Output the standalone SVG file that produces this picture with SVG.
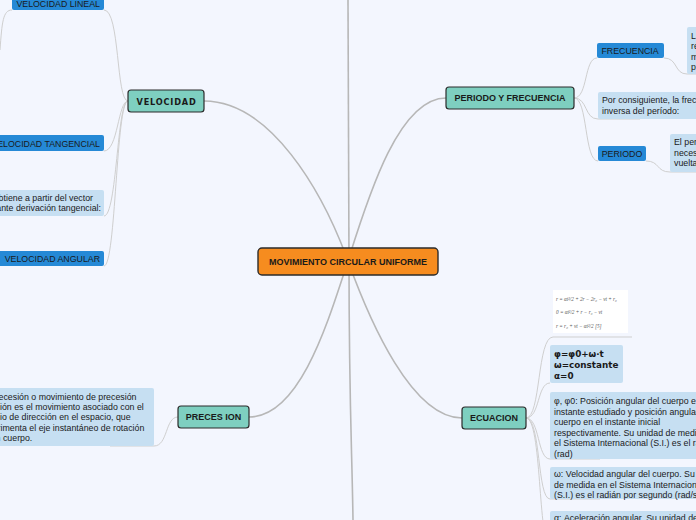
<svg xmlns="http://www.w3.org/2000/svg" width="696" height="520" viewBox="0 0 696 520">
<style>
.bg{fill:#f3f6fe}
.main{fill:none;stroke:#b7b7b7;stroke-width:1.6}
.sub{fill:none;stroke:#cfcfcf;stroke-width:1}
.root{fill:#f68c1f;stroke:#2b2b2b;stroke-width:1.4}
.topic{fill:#7ecfc0;stroke:#2b2b2b;stroke-width:1.2}
.lbl{fill:#2589d6}
.note{fill:#c6dff2}
.t{font-family:"Liberation Sans",Arial,sans-serif;font-size:8.8px;fill:#1a1a1a}
.tb{font-family:"Liberation Sans",Arial,sans-serif;font-size:9px;font-weight:bold;fill:#1a1a1a}
.tv{font-family:"DejaVu Sans",Verdana,sans-serif;font-size:8.2px;font-weight:bold;letter-spacing:0.8px;fill:#1a1a1a}
.tf{font-family:"DejaVu Sans",Verdana,sans-serif;font-size:8.8px;font-weight:bold;fill:#1a1a1a}
.fx{font-family:"Liberation Serif",serif;font-size:5.2px;font-style:italic;fill:#555}
</style>
<rect class="bg" x="0" y="0" width="696" height="520"/>
<g id="connectors">
<path class="main" d="M348,0 L349,261"/>
<path class="main" d="M349,261 C349,400 352,450 353,520"/>
<path class="main" d="M204,101 C270,101 322,190 348,261"/>
<path class="main" d="M446,98 C400,98 370,190 348,261"/>
<path class="main" d="M249,417 C300,417 328,322 348,261"/>
<path class="main" d="M462,418 C412,418 370,322 348,261"/>
<path class="sub" d="M128,101 C116,101 120,10 104,10"/>
<path class="sub" d="M128,101 C118,101 118,151 104,151"/>
<path class="sub" d="M128,101 C117,101 117,216 104,216"/>
<path class="sub" d="M128,101 C116,101 116,266 104,266"/>
<path class="sub" d="M12,10 C3,10 2,22 0,50"/>
<path class="sub" d="M574,98 C588,98 584,58 597,58"/>
<path class="sub" d="M574,98 C588,98 584,119 598,119 L640,119"/>
<path class="sub" d="M574,98 C588,98 584,161 598,161"/>
<path class="sub" d="M664,58 C678,58 674,74 687,74 L696,74"/>
<path class="sub" d="M646,161 C660,161 656,172 670,172 L696,172"/>
<path class="sub" d="M178,417 C165,417 168,446 154,446 L110,446"/>
<path class="sub" d="M526,418 C541,418 537,337 553,337 L632,337"/>
<path class="sub" d="M526,418 C540,418 537,383 550,383"/>
<path class="sub" d="M526,418 C540,418 537,459 550,459 L600,459"/>
<path class="sub" d="M526,418 C541,418 537,499 550,499 L600,499"/>
<path class="sub" d="M526,418 C542,418 538,545 550,545"/>
</g>
<g id="root">
<rect class="root" x="258" y="248" width="180" height="27" rx="4"/>
<text class="tb" x="348" y="264.5" text-anchor="middle">MOVIMIENTO CIRCULAR UNIFORME</text>
</g>
<g id="velocidad">
<rect class="topic" x="128" y="90" width="76" height="22" rx="3"/>
<text class="tv" x="166.5" y="104.5" text-anchor="middle">VELOCIDAD</text>
</g>
<g id="velocidad-lineal">
<rect class="lbl" x="12" y="-6" width="92" height="16" rx="2"/>
<text class="t" x="100" y="6.5" text-anchor="end">VELOCIDAD LINEAL</text>
</g>
<g id="velocidad-tangencial">
<rect class="lbl" x="-12" y="135" width="116" height="16" rx="2"/>
<text class="t" x="100" y="146.5" text-anchor="end">VELOCIDAD TANGENCIAL</text>
</g>
<g id="velocidad-nota">
<rect class="note" x="-20" y="190" width="124" height="26" rx="2"/>
<text class="t" x="93" y="200.5" text-anchor="end">se obtiene a partir del vector</text>
<text class="t" x="101" y="211" text-anchor="end">mediante derivación tangencial:</text>
</g>
<g id="velocidad-angular">
<rect class="lbl" x="-2" y="251" width="106" height="15" rx="2"/>
<text class="t" x="100" y="261.5" text-anchor="end">VELOCIDAD ANGULAR</text>
</g>
<g id="periodo-frecuencia">
<rect class="topic" x="446" y="87" width="128" height="22" rx="3"/>
<text class="tb" x="510" y="101.2" text-anchor="middle">PERIODO Y FRECUENCIA</text>
</g>
<g id="frecuencia">
<rect class="lbl" x="597" y="43" width="67" height="15" rx="2"/>
<text class="t" x="601.5" y="53.7">FRECUENCIA</text>
</g>
<g id="frecuencia-nota">
<rect class="note" x="687" y="27" width="30" height="47" rx="2"/>
<text class="t" x="691" y="38.5">La frecuencia es el número de</text>
<text class="t" x="691" y="49">revoluciones o vueltas que da el</text>
<text class="t" x="691" y="59.5">móvil en la unidad de tiempo,</text>
<text class="t" x="691" y="70">por ejemplo, por segundo.</text>
</g>
<g id="inversa-nota">
<rect class="note" x="598" y="92" width="110" height="27" rx="2"/>
<text class="t" x="602" y="103">Por consiguiente, la frecuencia es la</text>
<text class="t" x="602" y="113.5">inversa del período:</text>
</g>
<g id="periodo">
<rect class="lbl" x="598" y="146" width="48" height="15" rx="2"/>
<text class="t" x="601.7" y="156.7">PERIODO</text>
</g>
<g id="periodo-nota">
<rect class="note" x="670" y="134" width="40" height="38" rx="2"/>
<text class="t" x="674" y="145">El periodo es el tiempo</text>
<text class="t" x="674" y="155.5">necesario para dar una</text>
<text class="t" x="674" y="166">vuelta completa.</text>
</g>
<g id="precesion">
<rect class="topic" x="178" y="406" width="71" height="22" rx="3"/>
<text class="tb" x="213.5" y="420.3" text-anchor="middle">PRECES ION</text>
</g>
<g id="precesion-nota">
<rect class="note" x="-30" y="388" width="184" height="58" rx="2"/>
<text class="t" x="-21.5" y="399.5">La precesión o movimiento de precesión</text>
<text class="t" x="-21.5" y="409.9">nutación es el movimiento asociado con el</text>
<text class="t" x="-21.5" y="420.3">cambio de dirección en el espacio, que</text>
<text class="t" x="-21.5" y="430.7">experimenta el eje instantáneo de rotación</text>
<text class="t" x="-21.5" y="441.1">de un cuerpo.</text>
</g>
<g id="ecuacion">
<rect class="topic" x="462" y="407" width="64" height="22" rx="3"/>
<text class="tb" x="494" y="421.2" text-anchor="middle">ECUACION</text>
</g>
<g id="formulas">
<rect x="553" y="290" width="75" height="43" fill="#ffffff"/>
<text class="fx" x="556" y="301">r = αt²/2 + 2r − 2r₀ − vt + r₀</text>
<text class="fx" x="556" y="314">0 = αt²/2 + r − r₀ − vt</text>
<text class="fx" x="556" y="328">r = r₀ + vt − αt²/2     [5]</text>
</g>
<g id="ecuacion-mcu">
<rect class="note" x="550" y="345" width="73" height="38" rx="2"/>
<text class="tf" x="554" y="356.5">φ=φ0+ω·t</text>
<text class="tf" x="554" y="368">ω=constante</text>
<text class="tf" x="554" y="379.3">α=0</text>
</g>
<g id="phi-nota">
<rect class="note" x="550" y="392" width="160" height="67" rx="2"/>
<text class="t" x="554" y="404">φ, φ0: Posición angular del cuerpo en el</text>
<text class="t" x="554" y="414.5">instante estudiado y posición angular del</text>
<text class="t" x="554" y="425">cuerpo en el instante inicial</text>
<text class="t" x="554" y="435.5">respectivamente. Su unidad de medida en</text>
<text class="t" x="554" y="446">el Sistema Internacional (S.I.) es el radián</text>
<text class="t" x="554" y="456.5">(rad)</text>
</g>
<g id="omega-nota">
<rect class="note" x="550" y="467" width="160" height="32" rx="2"/>
<text class="t" x="554" y="477">ω: Velocidad angular del cuerpo. Su unidad</text>
<text class="t" x="554" y="487.5">de medida en el Sistema Internacional</text>
<text class="t" x="554" y="498">(S.I.) es el radián por segundo (rad/s)</text>
</g>
<g id="alfa-nota">
<rect class="note" x="550" y="511" width="160" height="30" rx="2"/>
<text class="t" x="554" y="521">α: Aceleración angular. Su unidad de medida</text>
</g>
</svg>
